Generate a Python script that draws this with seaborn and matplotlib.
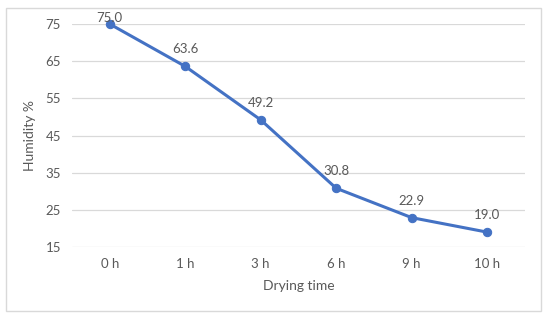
import matplotlib
matplotlib.use('Agg')
import matplotlib.pyplot as plt
import seaborn as sns
import pandas as pd
from matplotlib.patches import Rectangle

# Data
times = ['0 h', '1 h', '3 h', '6 h', '9 h', '10 h']
humidity = [75.0, 63.6, 49.2, 30.8, 22.9, 19.0]
y_ticks = [15, 25, 35, 45, 55, 65, 75]

df = pd.DataFrame({'Drying time': times, 'Humidity %': humidity})

sns.set_style('white')
plt.rcParams['font.family'] = ['Lato', 'DejaVu Sans']
text_col = '#595959'
line_col = '#4472C4'

fig = plt.figure(figsize=(5.5, 3.21), dpi=100)
ax = fig.add_axes([0.1309, 0.2305, 0.8236, 0.6947])

sns.lineplot(data=df, x='Drying time', y='Humidity %', ax=ax, color=line_col,
             linewidth=2.2, marker='o', markersize=6, markeredgecolor=line_col,
             clip_on=False, sort=False)

# data labels; the top one sits on its point like in the original
for i, v in enumerate(df['Humidity %']):
    dy = 0 if v >= ax.get_ylim()[1] - 1 or i == 0 else 8
    ax.annotate(f'{v:.1f}', (i, v), xytext=(0, dy), textcoords='offset points',
                ha='center', va='bottom', fontsize=9.5, color=text_col)

ax.set_xlim(-0.5, len(times) - 0.5)
ax.set_ylim(15, 75)
ax.set_yticks(y_ticks)
ax.grid(axis='y', color='#d9d9d9', linewidth=0.9)
ax.set_axisbelow(True)
for s in ax.spines.values():
    s.set_visible(False)
ax.tick_params(axis='both', length=0, labelsize=9.5, labelcolor=text_col)
ax.tick_params(axis='x', pad=8)
ax.tick_params(axis='y', pad=8)
ax.set_xlabel('Drying time', fontsize=10, color=text_col, labelpad=7)
ax.set_ylabel('Humidity %', fontsize=10, color=text_col, labelpad=7)

# outer chart frame
fig.patches.append(Rectangle((6 / 550, 1 - 311 / 321), 535 / 550, 303 / 321,
                             transform=fig.transFigure, fill=False,
                             edgecolor='#d9d9d9', linewidth=1))

fig.savefig('out.png', dpi=100, facecolor='white')
